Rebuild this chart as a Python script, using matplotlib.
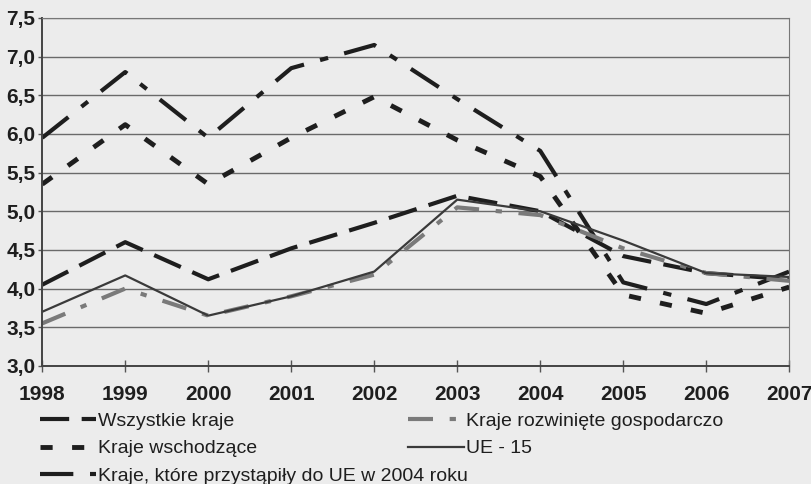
import numpy as np
import matplotlib.pyplot as plt

# chart data
years = [1998, 1999, 2000, 2001, 2002, 2003, 2004, 2005, 2006, 2007]
wszystkie = [4.05, 4.60, 4.12, 4.52, 4.85, 5.20, 5.00, 4.42, 4.20, 4.12]
wschodzace = [5.35, 6.12, 5.35, 5.95, 6.48, 5.92, 5.45, 3.92, 3.68, 4.02]
przystapily = [5.95, 6.80, 5.95, 6.85, 7.15, 6.45, 5.78, 4.08, 3.80, 4.22]
rozwiniete = [3.55, 4.00, 3.65, 3.90, 4.18, 5.05, 4.95, 4.52, 4.20, 4.10]
ue15 = [3.70, 4.17, 3.65, 3.90, 4.22, 5.15, 5.00, 4.62, 4.20, 4.15]

labels = ['Wszystkie kraje', 'Kraje wschodzące',
          'Kraje, które przystąpiły do UE w 2004 roku',
          'Kraje rozwinięte gospodarczo', 'UE - 15']
yticks = [3.0, 3.5, 4.0, 4.5, 5.0, 5.5, 6.0, 6.5, 7.0, 7.5]

plt.rcParams['font.family'] = ['Liberation Sans', 'DejaVu Sans']

bg = '#ececec'
fig = plt.figure(figsize=(8.12, 4.84), dpi=100, facecolor=bg)
ax = fig.add_axes([0.052, 0.244, 0.92, 0.719])
ax.set_facecolor(bg)

ink = '#1e1e1e'
h1, = ax.plot(years, wszystkie, color=ink, lw=3, dashes=(7, 3))
h2, = ax.plot(years, wschodzace, color=ink, lw=3.5, dashes=(2.5, 4))
h3, = ax.plot(years, przystapily, color=ink, lw=3, dashes=(8, 4, 2, 4))
h4, = ax.plot(years, rozwiniete, color='#7a7a7a', lw=3, dashes=(6, 4, 1.5, 4))
h5, = ax.plot(years, ue15, color='#3a3a3a', lw=1.6)

ax.set_xlim(1998, 2007)
ax.set_ylim(3.0, 7.5)
ax.set_yticks(yticks)
ax.set_yticklabels([f'{v:.1f}'.replace('.', ',') for v in yticks])
ax.set_xticks(years)
ax.grid(True, axis='y', color='#6a6a6a', lw=1)
ax.set_axisbelow(True)

for s in ['top', 'right']:
    ax.spines[s].set_color('#777777')
for s in ['left', 'bottom']:
    ax.spines[s].set_color('#444444')
    ax.spines[s].set_linewidth(1.4)

ax.tick_params(axis='x', direction='inout', length=8, width=1, color='#555555',
               labelsize=15, pad=10, labelcolor=ink)
ax.tick_params(axis='y', length=3, width=1, color='#555555', labelsize=15,
               pad=2, labelcolor=ink)
for label in ax.get_xticklabels() + ax.get_yticklabels():
    label.set_fontweight('bold')

legKw = dict(frameon=False, fontsize=14, handlelength=2.9, handletextpad=0.1,
             labelspacing=0.5, borderpad=0, borderaxespad=0, loc='upper left')
leg1 = fig.legend([h1, h2, h3], labels[:3], bbox_to_anchor=(0.049, 0.148), **legKw)
leg2 = fig.legend([h4, h5], labels[3:], bbox_to_anchor=(0.502, 0.148), **legKw)
for leg in (leg1, leg2):
    for t in leg.get_texts():
        t.set_color(ink)

fig.savefig('out.png', dpi=100, facecolor=bg)
